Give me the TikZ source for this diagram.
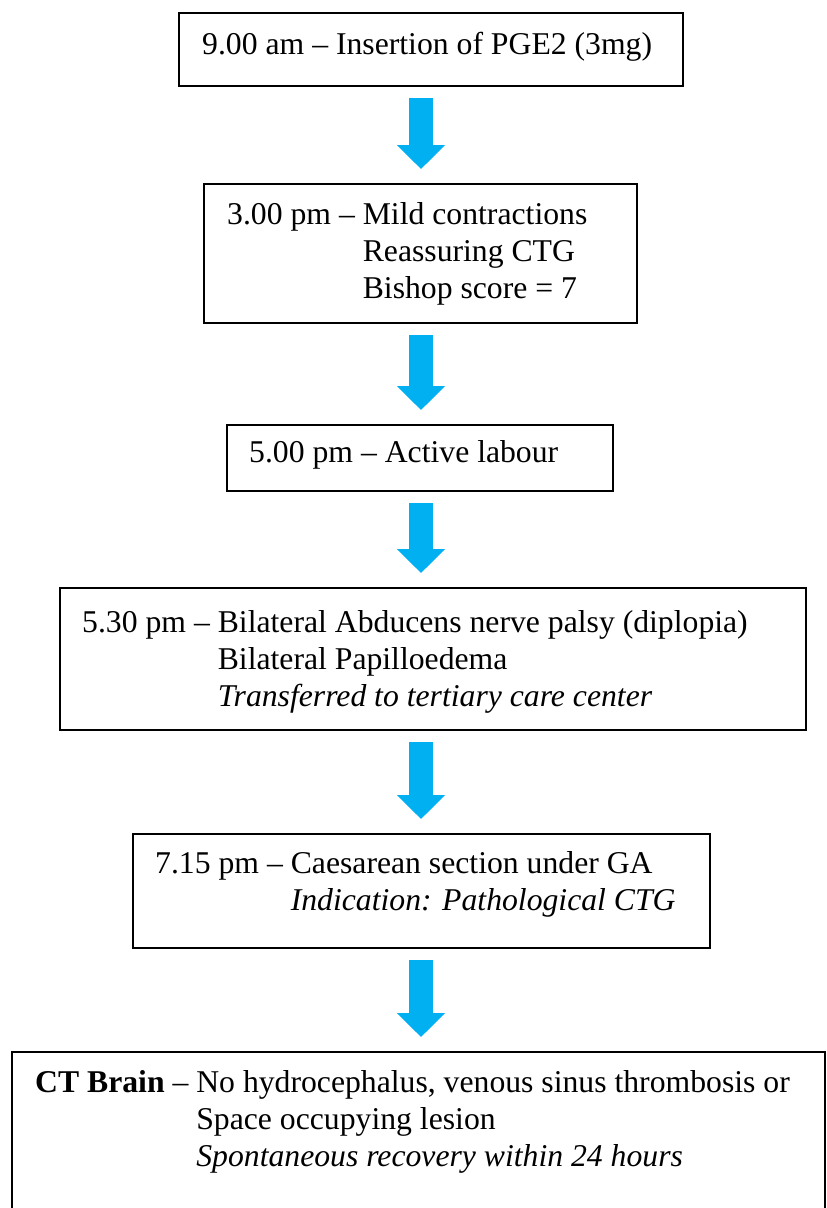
\documentclass[tikz,border=0pt]{standalone}
\usepackage{fontspec}
\setmainfont{Liberation Serif}
\usetikzlibrary{arrows.meta, calc}
\definecolor{flowblue}{HTML}{00B0F0}

\begin{document}
\begin{tikzpicture}[x=1pt, y=-1pt,
        box/.style={draw, line width=1.8pt, anchor=north west, outer sep=0pt, inner sep=0pt},
        txt/.style={anchor=base west, inner sep=0pt, font=\fontsize{31.7}{37}\selectfont},
        flow/.style={draw=flowblue, line width=24pt, -{Triangle[width=47pt, length=24pt]}, shorten <= 12pt, shorten >= 15pt}]
        \clip (0,0) rectangle (827,1208);
        \coordinate (col) at (421,0);

        \node[box, minimum width=504pt, minimum height=73pt] (b1) at (179,13) {};
        \node[box, minimum width=433pt, minimum height=139pt] (b2) at (204,184) {};
        \node[box, minimum width=386pt, minimum height=66pt] (b3) at (227,425) {};
        \node[box, minimum width=746pt, minimum height=142pt] (b4) at (60,588) {};
        \node[box, minimum width=577pt, minimum height=114pt] (b5) at (133,834) {};
        \node[box, minimum width=813pt, minimum height=200pt] (b6) at (12,1052) {};

        \node[txt] (t1) at (202,54) {9.00 am -- Insertion of PGE2 (3mg)};
        \node[txt] (t2) at (227,224) {\begin{tabular}[t]{@{}l@{\ }l@{}}
            3.00 pm -- & Mild contractions\\
            & Reassuring CTG\\
            & Bishop score = 7
        \end{tabular}};
        \node[txt] (t3) at (249,462) {5.00 pm -- Active labour};
        \node[txt] (t4) at (82,632) {\begin{tabular}[t]{@{}l@{\ }l@{}}
            5.30 pm -- & Bilateral Abducens nerve palsy (diplopia)\\
            & Bilateral Papilloedema\\
            & \textit{Transferred to tertiary care center}
        \end{tabular}};
        \node[txt] (t5) at (155,873) {\begin{tabular}[t]{@{}l@{\ }l@{}}
            7.15 pm -- & Caesarean section under GA\\
            & \textit{Indication: Pathological CTG}
        \end{tabular}};
        \node[txt] (t6) at (35,1092) {\begin{tabular}[t]{@{}l@{\ }l@{}}
            \textbf{CT Brain} -- & No hydrocephalus, venous sinus thrombosis or\\
            & Space occupying lesion\\
            & \textit{Spontaneous recovery within 24 hours}
        \end{tabular}};

        \draw[flow] (b1.south -| col) -- (b2.north -| col);
        \draw[flow] (b2.south -| col) -- (b3.north -| col);
        \draw[flow] (b3.south -| col) -- (b4.north -| col);
        \draw[flow] (b4.south -| col) -- (b5.north -| col);
        \draw[flow] (b5.south -| col) -- (b6.north -| col);
\end{tikzpicture}
\end{document}
